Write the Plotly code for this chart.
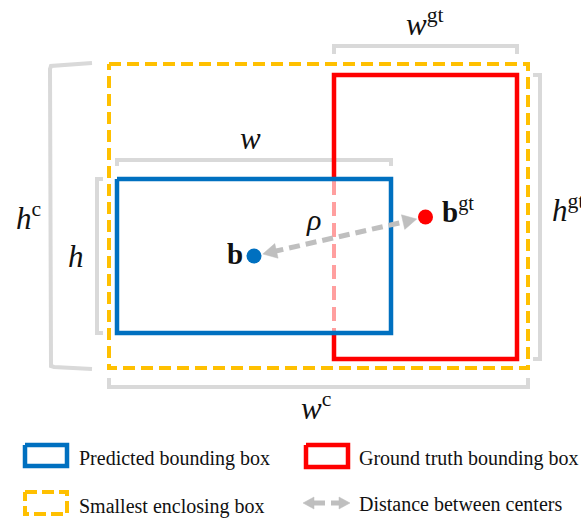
import numpy as np
import plotly.graph_objects as go

# ---- diagram data (image units, y grows downward) ----
pred_box = [117, 179, 391, 333]       # x0, y0, x1, y1 of predicted box
gt_box = [334, 75, 517, 359]          # ground-truth box
enclosing_box = [109, 64, 528, 368]   # smallest enclosing box

legend_labels = ["Predicted bounding box", "Ground truth bounding box",
                 "Smallest enclosing box", "Distance between centers"]
dim_labels = ["<i>w</i>", "<i>h</i>", "<i>w</i><sup>gt</sup>", "<i>h</i><sup>gt</sup>",
              "<i>w</i><sup>c</sup>", "<i>h</i><sup>c</sup>"]
center_labels = ["<b>b</b>", "<b>b</b><sup>gt</sup>", "<i>ρ</i>"]

# ---- styles ----
BLUE = "#0070C0"
RED = "#FF0000"
PINK = "#FF9F9F"
YELLOW = "#FFC000"
BRACKET = "#D9D9D9"
ARROW = "#BFBFBF"
FONT = "Liberation Serif, Times New Roman, Times, DejaVu Serif, serif"

W, H = 581, 518
fig = go.Figure()


def line(xs, ys, color, width, dash="solid", shape="linear"):
    fig.add_trace(go.Scatter(x=xs, y=ys, mode="lines", hoverinfo="skip",
                             line=dict(color=color, width=width, dash=dash, shape=shape)))


def rect(b, color, width, dash="solid"):
    x0, y0, x1, y1 = b
    line([x0, x1, x1, x0, x0], [y0, y0, y1, y1, y0], color, width, dash)


def head(tip, direction, length, half):
    d = np.asarray(direction, float)
    d = d / np.linalg.norm(d)
    n = np.array([-d[1], d[0]])
    tip = np.asarray(tip, float)
    base = tip - d * length
    p1 = base + n * half
    p2 = base - n * half
    fig.add_trace(go.Scatter(x=[tip[0], p1[0], p2[0], tip[0]], y=[tip[1], p1[1], p2[1], tip[1]],
                             mode="lines", fill="toself", fillcolor=ARROW, hoverinfo="skip",
                             line=dict(color=ARROW, width=0.5)))


# ---- brackets ----
px0, py0, px1, py1 = pred_box
gx0, gy0, gx1, gy1 = gt_box
ex0, ey0, ex1, ey1 = enclosing_box
line([px0, px0, px1, px1], [py0 - 13, py0 - 19, py0 - 19, py0 - 13], BRACKET, 4)       # w
line([px0 - 14, px0 - 20, px0 - 20, px0 - 14], [py0, py0, py1, py1], BRACKET, 4)       # h
line([gx0, gx0, gx1, gx1], [gy0 - 21, gy0 - 29, gy0 - 29, gy0 - 21], BRACKET, 4)       # w gt
line([gx1 + 16, gx1 + 23, gx1 + 23, gx1 + 16], [gy0, gy0, gy1, gy1], BRACKET, 4)       # h gt
line([ex0, ex0, ex1, ex1], [ey1 + 10, ey1 + 19, ey1 + 19, ey1 + 10], BRACKET, 4)       # w c
line([ex0 - 17, ex0 - 55, ex0 - 58, ex0 - 59, ex0 - 59, ex0 - 58, ex0 - 55, ex0 - 17],
     [ey0 - 1, ey0 + 1, ey0 + 2, ey0 + 5, ey1 - 5, ey1 - 2, ey1 - 1, ey1 + 1], BRACKET, 4)  # h c

# ---- boxes ----
rect(enclosing_box, YELLOW, 4, dash="12px,6px")
line([gx0, gx0, gx1, gx1, gx0, gx0], [py0 - 2, gy0, gy0, gy1, gy1, py1 + 2], RED, 4.5)
line([gx0, gx0], [py0 + 2, py1 - 2], PINK, 4, dash="14px,7px")
rect(pred_box, BLUE, 4.5)

# ---- centres and distance arrow ----
b = np.array([(px0 + px1) / 2, (py0 + py1) / 2])
bgt = np.array([(gx0 + gx1) / 2, (gy0 + gy1) / 2])
u = (bgt - b) / np.linalg.norm(bgt - b)
tip_b = b + u * 9
tip_g = bgt - u * 9
s0 = tip_b + u * 10
s1 = tip_g - u * 10
line([s0[0], s1[0]], [s0[1], s1[1]], ARROW, 5, dash="11px,6px")
head(tip_b, -u, 14, 7.5)
head(tip_g, u, 14, 7.5)
fig.add_trace(go.Scatter(x=[b[0]], y=[b[1]], mode="markers", hoverinfo="skip",
                         marker=dict(color=BLUE, size=15, line=dict(width=0))))
fig.add_trace(go.Scatter(x=[bgt[0]], y=[bgt[1]], mode="markers", hoverinfo="skip",
                         marker=dict(color=RED, size=15, line=dict(width=0))))

# ---- legend icons ----
rect([25, 445, 67, 466], BLUE, 4.5)
rect([306, 445, 348, 467], RED, 4.5)
rect([25, 492, 67, 514], YELLOW, 4, dash="12px,5px")
line([313, 325], [503, 503], ARROW, 5)
head([303, 503], [-1, 0], 11, 6)
line([331, 340], [503, 503], ARROW, 5)
head([350, 503], [1, 0], 11, 6)

# ---- text ----
def text(x, y, t, size, anchor="center"):
    fig.add_annotation(x=x, y=y, xref="x", yref="y", text=t, showarrow=False,
                       xanchor=anchor, yanchor="middle",
                       font=dict(family=FONT, size=size, color="#111111"))


label_pos = [(250, 138), (76, 256), (425, 22), (568, 208), (316, 406), (28, 216)]
for (x, y), t in zip(label_pos, dim_labels):
    text(x, y, t, 31)
text(235, 254, center_labels[0], 29)
text(458, 210, center_labels[1], 29)
text(313, 219, center_labels[2], 30)

leg_pos = [(77, 458), (357, 458), (77, 506), (357, 504)]
for (x, y), t in zip(leg_pos, legend_labels):
    text(x, y, t, 20, anchor="left")

fig.update_layout(
    width=W, height=H, margin=dict(l=0, r=0, t=0, b=0),
    paper_bgcolor="white", plot_bgcolor="white", showlegend=False,
    font=dict(family=FONT),
    xaxis=dict(range=[0, W], visible=False, fixedrange=True),
    yaxis=dict(range=[H, 0], visible=False, fixedrange=True),
)

fig.write_html("out.html", config={"displayModeBar": False, "staticPlot": True},
               post_script="document.body.style.margin='0';")
